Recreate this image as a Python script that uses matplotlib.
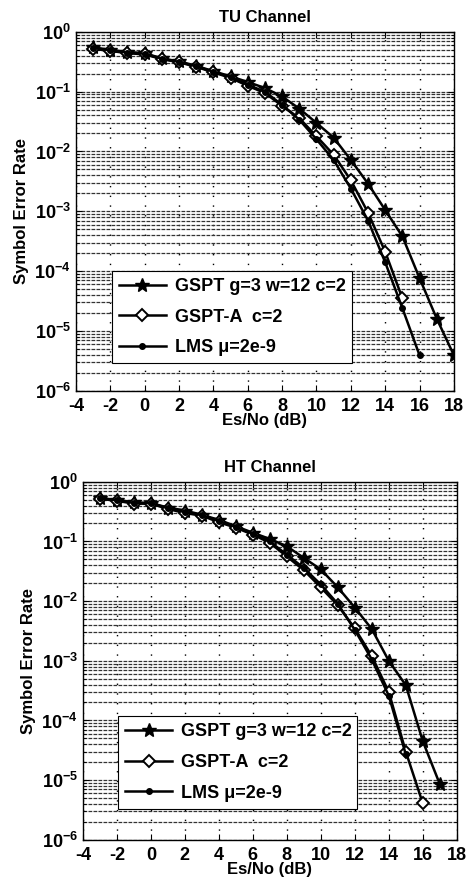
import numpy as np
import matplotlib
matplotlib.use("Agg")
import matplotlib.pyplot as plt
from matplotlib.ticker import LogLocator, NullFormatter

plt.rcParams['font.family'] = ['Liberation Sans', 'DejaVu Sans']
plt.rcParams['font.weight'] = 'bold'
plt.rcParams['mathtext.fontset'] = 'custom'
plt.rcParams['mathtext.rm'] = 'Liberation Sans:bold'
plt.rcParams['mathtext.bf'] = 'Liberation Sans:bold'
plt.rcParams['mathtext.default'] = 'bf'
plt.rcParams['axes.unicode_minus'] = False

# TU channel
tu_gspt_x = list(range(-3, 19))
tu_gspt_y = [0.55, 0.50, 0.46, 0.44, 0.36, 0.32, 0.27, 0.22, 0.18, 0.145, 0.115,
             0.083, 0.052, 0.030, 0.017, 7.2e-3, 2.9e-3, 1.05e-3, 3.8e-4, 7.6e-5,
             1.6e-5, 3.9e-6]
tu_gspta_x = list(range(-3, 16))
tu_gspta_y = [0.52, 0.48, 0.44, 0.42, 0.35, 0.31, 0.26, 0.21, 0.17, 0.125, 0.095,
              0.058, 0.036, 0.018, 8.8e-3, 3.3e-3, 9.5e-4, 2.1e-4, 3.5e-5]
tu_lms_x = list(range(-3, 17))
tu_lms_y = [0.54, 0.49, 0.45, 0.43, 0.355, 0.315, 0.265, 0.215, 0.175, 0.13, 0.10,
            0.060, 0.034, 0.016, 7.2e-3, 2.4e-3, 7.0e-4, 1.4e-4, 2.4e-5, 3.9e-6]

# HT channel
ht_gspt_x = list(range(-3, 18))
ht_gspt_y = [0.53, 0.50, 0.45, 0.44, 0.37, 0.33, 0.28, 0.23, 0.18, 0.14, 0.11,
             0.083, 0.053, 0.034, 0.017, 7.8e-3, 3.4e-3, 1.0e-3, 3.9e-4, 4.5e-5,
             8.6e-6]
ht_gspta_x = list(range(-3, 17))
ht_gspta_y = [0.52, 0.48, 0.43, 0.43, 0.35, 0.30, 0.27, 0.21, 0.17, 0.13, 0.095,
              0.056, 0.033, 0.017, 8.5e-3, 3.5e-3, 1.2e-3, 3.0e-4, 3.0e-5, 4.1e-6]
ht_lms_x = list(range(-3, 16))
ht_lms_y = [0.53, 0.49, 0.44, 0.44, 0.36, 0.31, 0.275, 0.22, 0.175, 0.135, 0.10,
            0.060, 0.036, 0.019, 9.0e-3, 3.3e-3, 1.05e-3, 2.6e-4, 2.7e-5]

labels = ['GSPT g=3 w=12 c=2', 'GSPT-A  c=2', 'LMS \u03bc=2e-9']
x_ticks = list(range(-4, 19, 2))


def draw_panel(ax, title, series, legend_box):
    (gx, gy), (ax_, ay), (lx, ly) = series
    ax.semilogy(gx, gy, color='k', lw=1.8, marker='*', ms=10, mfc='k', mec='k',
                label=labels[0])
    ax.semilogy(ax_, ay, color='k', lw=1.8, marker='D', ms=6, mfc='white',
                mec='k', mew=1.4, label=labels[1])
    ax.semilogy(lx, ly, color='k', lw=1.8, marker='.', ms=8, label=labels[2])

    ax.set_xlim(-4, 18)
    ax.set_ylim(1e-6, 1)
    ax.set_xticks(x_ticks)
    ax.yaxis.set_major_locator(LogLocator(base=10, numticks=10))
    ax.yaxis.set_minor_locator(LogLocator(base=10, subs=np.arange(2, 10), numticks=10))
    ax.yaxis.set_minor_formatter(NullFormatter())
    ax.tick_params(which='both', direction='in', top=True, right=True,
                   labelsize=13)
    ax.tick_params(axis='x', pad=5)
    ax.tick_params(which='major', length=4)
    ax.tick_params(which='minor', length=2)

    ax.grid(which='both', axis='y', color='0.2', linestyle=(0, (3, 1)), lw=0.9)
    ax.grid(which='major', axis='x', color='k', linestyle=(0, (1, 6)), lw=1.0)

    ax.set_title(title, fontsize=12, fontweight='bold', pad=7)
    ax.set_xlabel('Es/No (dB)', fontsize=12, fontweight='bold', labelpad=-1)
    ax.set_ylabel('Symbol Error Rate', fontsize=12, fontweight='bold', labelpad=4)

    leg = ax.legend(loc='center left', bbox_to_anchor=legend_box, mode='expand',
                    fontsize=13, frameon=True, fancybox=False, edgecolor='k',
                    framealpha=1, handlelength=2.6, borderaxespad=0,
                    labelspacing=0.75, handletextpad=0.5)
    leg.get_frame().set_linewidth(0.8)
    for spine in ax.spines.values():
        spine.set_linewidth(1.0)


fig = plt.figure(figsize=(4.68, 8.84), dpi=100)
ax1 = fig.add_axes([0.162, 0.558, 0.808, 0.406])
ax2 = fig.add_axes([0.177, 0.050, 0.799, 0.405])

draw_panel(ax1, 'TU Channel',
           [(tu_gspt_x, tu_gspt_y), (tu_gspta_x, tu_gspta_y), (tu_lms_x, tu_lms_y)],
           (0.095, 0.05, 0.635, 0.31))
draw_panel(ax2, 'HT Channel',
           [(ht_gspt_x, ht_gspt_y), (ht_gspta_x, ht_gspta_y), (ht_lms_x, ht_lms_y)],
           (0.094, 0.056, 0.64, 0.32))

fig.savefig('out.png', dpi=100)
